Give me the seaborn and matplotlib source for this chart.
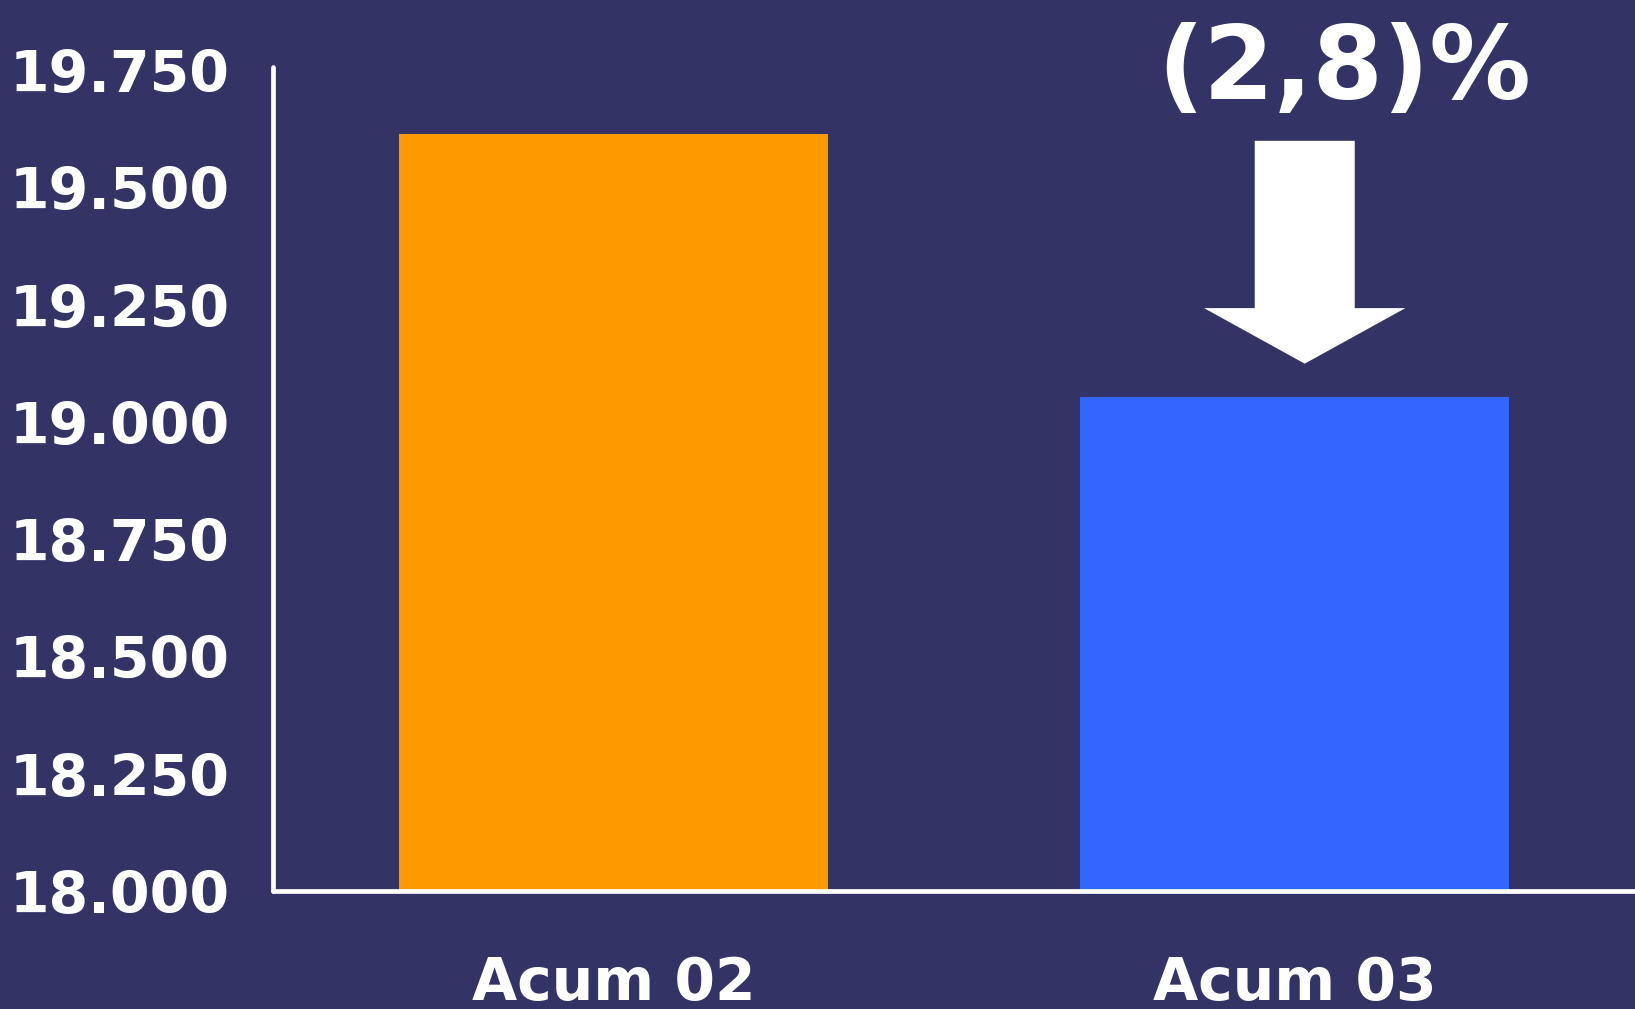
import matplotlib
matplotlib.use("Agg")
import matplotlib.pyplot as plt
import seaborn as sns
from matplotlib.ticker import FuncFormatter

# data
categories = ["Acum 02", "Acum 03"]
values = [19615, 19055]
bar_colors = ["#FF9900", "#3366FF"]
change_label = "(2,8)%"
y_ticks = [18000, 18250, 18500, 18750, 19000, 19250, 19500, 19750]

bg = "#343366"

sns.set_style("white")
plt.rcParams['font.family'] = ['DejaVu Sans']

fig = plt.figure(figsize=(16.35, 10.09), dpi=100, facecolor=bg)
ax = fig.add_axes([0.167, 0.1165, 0.833, 0.8174])
ax.set_facecolor(bg)

sns.barplot(x=categories, y=values, hue=categories, palette=bar_colors,
            legend=False, width=0.63, linewidth=0, saturation=1, ax=ax)

ax.set_ylim(18000, 19758)
ax.set_xlim(-0.5, 1.5)
ax.set_yticks(y_ticks)
ax.yaxis.set_major_formatter(FuncFormatter(lambda v, p: f"{v:,.0f}".replace(",", ".")))

for s in ["top", "right"]:
    ax.spines[s].set_visible(False)
for s in ["left", "bottom"]:
    ax.spines[s].set_color("white")
    ax.spines[s].set_linewidth(3.4)
    ax.spines[s].set_capstyle("round")

ax.tick_params(axis="y", length=0, pad=31, labelsize=41, labelcolor="white")
ax.tick_params(axis="x", length=0, pad=46, labelsize=42, labelcolor="white")
for lab in ax.get_xticklabels() + ax.get_yticklabels():
    lab.set_fontweight("bold")
ax.set_xlabel("")
ax.set_ylabel("")

# down arrow from the old level toward the new bar
ax.annotate("", xy=(1.015, values[1] + 70), xytext=(1.015, values[0] - 15),
            arrowprops=dict(facecolor="white", edgecolor="none", width=72,
                            headwidth=145, headlength=40, shrink=0),
            annotation_clip=False)

ax.text(1.073, 19690, change_label, color="white", fontsize=73,
        fontweight="bold", ha="center", va="baseline", clip_on=False)

fig.savefig("out.png", dpi=100, facecolor=bg)
